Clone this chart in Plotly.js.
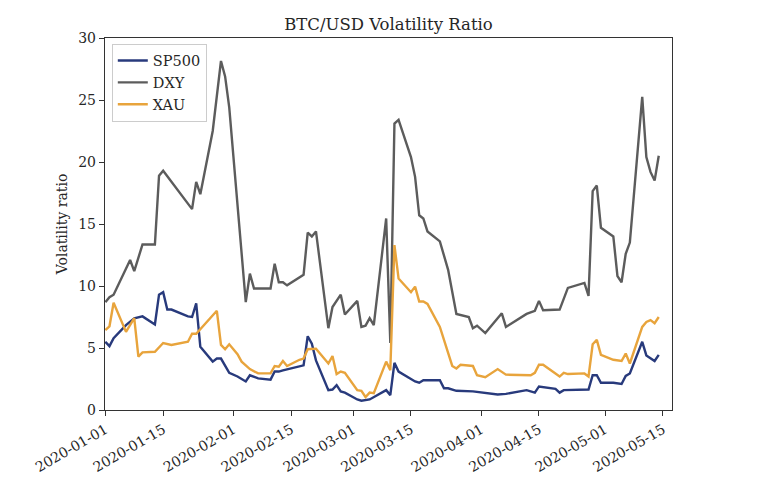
<!DOCTYPE html>
<html>
<head>
<meta charset="utf-8">
<script src="https://cdn.plot.ly/plotly-3.0.1.min.js"></script>
<style>html,body{margin:0;padding:0;background:#fff;}#chart{width:775px;height:484px;}</style>
</head>
<body>
<div id="chart"></div>
<script>
// ---- data ----
const spDates = ["2020-01-01","2020-01-02","2020-01-03","2020-01-06","2020-01-08","2020-01-10","2020-01-13","2020-01-14","2020-01-15","2020-01-16","2020-01-17","2020-01-21","2020-01-22","2020-01-23","2020-01-24","2020-01-27","2020-01-28","2020-01-29","2020-01-31","2020-02-02","2020-02-04","2020-02-05","2020-02-07","2020-02-10","2020-02-11","2020-02-12","2020-02-13","2020-02-17","2020-02-18","2020-02-19","2020-02-20","2020-02-21","2020-02-24","2020-02-25","2020-02-26","2020-02-27","2020-02-28","2020-03-02","2020-03-03","2020-03-05","2020-03-06","2020-03-09","2020-03-10","2020-03-11","2020-03-12","2020-03-16","2020-03-17","2020-03-18","2020-03-22","2020-03-23","2020-03-24","2020-03-26","2020-03-30","2020-04-02","2020-04-05","2020-04-07","2020-04-12","2020-04-14","2020-04-15","2020-04-19","2020-04-20","2020-04-21","2020-04-27","2020-04-28","2020-04-29","2020-04-30","2020-05-03","2020-05-05","2020-05-06","2020-05-07","2020-05-10","2020-05-11","2020-05-13","2020-05-14"];
const spValues = [5.5,5.15,5.8,6.85,7.4,7.55,6.9,9.3,9.5,8.1,8.1,7.55,7.5,8.6,5.1,3.9,4.15,4.15,3.0,2.7,2.3,2.8,2.55,2.45,3.1,3.1,3.2,3.55,3.6,5.95,5.35,4.0,1.6,1.65,2.0,1.5,1.4,0.85,0.75,0.85,1.05,1.6,1.2,3.8,3.1,2.3,2.2,2.4,2.4,1.75,1.75,1.55,1.5,1.35,1.25,1.3,1.6,1.4,1.9,1.7,1.4,1.6,1.65,2.8,2.8,2.2,2.2,2.1,2.75,2.95,5.5,4.4,3.95,4.45];

const dxyDates = ["2020-01-01","2020-01-02","2020-01-03","2020-01-07","2020-01-08","2020-01-10","2020-01-13","2020-01-14","2020-01-15","2020-01-22","2020-01-23","2020-01-24","2020-01-27","2020-01-29","2020-01-30","2020-01-31","2020-02-04","2020-02-05","2020-02-06","2020-02-10","2020-02-11","2020-02-12","2020-02-13","2020-02-14","2020-02-18","2020-02-19","2020-02-20","2020-02-21","2020-02-24","2020-02-25","2020-02-27","2020-02-28","2020-03-02","2020-03-03","2020-03-04","2020-03-05","2020-03-06","2020-03-09","2020-03-10","2020-03-11","2020-03-12","2020-03-15","2020-03-16","2020-03-17","2020-03-18","2020-03-19","2020-03-22","2020-03-24","2020-03-26","2020-03-29","2020-03-30","2020-03-31","2020-04-02","2020-04-06","2020-04-07","2020-04-12","2020-04-14","2020-04-15","2020-04-16","2020-04-20","2020-04-22","2020-04-26","2020-04-27","2020-04-28","2020-04-29","2020-04-30","2020-05-03","2020-05-04","2020-05-05","2020-05-06","2020-05-07","2020-05-10","2020-05-11","2020-05-12","2020-05-13","2020-05-14"];
const dxyValues = [8.7,9.1,9.3,12.1,11.2,13.35,13.35,18.9,19.3,16.2,18.4,17.4,22.5,28.15,26.9,24.4,8.7,11.0,9.8,9.8,11.8,10.3,10.3,10.05,10.9,14.3,14.0,14.4,6.6,8.3,9.3,7.7,8.8,6.7,6.8,7.4,6.85,15.45,5.4,23.1,23.4,20.4,18.8,15.7,15.45,14.4,13.6,11.3,7.75,7.5,6.6,6.8,6.2,7.8,6.7,7.75,8.0,8.8,8.05,8.1,9.85,10.25,9.2,17.65,18.1,14.7,14.0,10.8,10.3,12.6,13.5,25.25,20.4,19.2,18.5,20.5];

const xauDates = ["2020-01-01","2020-01-02","2020-01-03","2020-01-06","2020-01-08","2020-01-09","2020-01-10","2020-01-13","2020-01-15","2020-01-17","2020-01-21","2020-01-22","2020-01-23","2020-01-28","2020-01-29","2020-01-30","2020-01-31","2020-02-02","2020-02-03","2020-02-05","2020-02-07","2020-02-10","2020-02-11","2020-02-12","2020-02-13","2020-02-14","2020-02-17","2020-02-18","2020-02-19","2020-02-21","2020-02-24","2020-02-25","2020-02-26","2020-02-27","2020-02-28","2020-03-02","2020-03-03","2020-03-04","2020-03-05","2020-03-06","2020-03-09","2020-03-10","2020-03-11","2020-03-12","2020-03-15","2020-03-16","2020-03-17","2020-03-18","2020-03-19","2020-03-22","2020-03-25","2020-03-26","2020-03-27","2020-03-30","2020-03-31","2020-04-02","2020-04-05","2020-04-07","2020-04-13","2020-04-14","2020-04-15","2020-04-16","2020-04-20","2020-04-21","2020-04-22","2020-04-26","2020-04-27","2020-04-28","2020-04-29","2020-04-30","2020-05-03","2020-05-05","2020-05-06","2020-05-07","2020-05-10","2020-05-11","2020-05-12","2020-05-13","2020-05-14"];
const xauValues = [6.45,6.75,8.65,6.3,7.4,4.3,4.65,4.7,5.4,5.25,5.5,6.15,6.15,8.0,5.25,4.9,5.3,4.5,3.9,3.3,2.95,2.95,3.55,3.5,3.95,3.55,4.05,4.15,4.9,4.95,3.75,4.35,2.9,3.1,3.0,1.6,1.55,1.05,1.4,1.35,3.9,3.2,13.3,10.6,9.5,9.95,8.75,8.75,8.55,6.7,3.55,3.35,3.65,3.55,2.8,2.65,3.3,2.85,2.8,3.0,3.65,3.65,2.7,3.0,2.9,2.95,2.7,5.3,5.65,4.45,4.05,3.95,4.55,3.75,6.7,7.1,7.25,7.0,7.5];

const seriesNames = ["SP500","DXY","XAU"];
const seriesColors = ["#283a7c","#5c5c5c","#e8a43c"];
const xTickDates = ["2020-01-01","2020-01-15","2020-02-01","2020-02-15","2020-03-01","2020-03-15","2020-04-01","2020-04-15","2020-05-01","2020-05-15"];
const yTicks = [0,5,10,15,20,25,30];

const xs = [spDates, dxyDates, xauDates];
const ys = [spValues, dxyValues, xauValues];
const traces = seriesNames.map((n, i) => ({
  type: "scatter", mode: "lines", name: n, x: xs[i], y: ys[i],
  line: {color: seriesColors[i], width: 2.4}
}));

const font = "DejaVu Serif, Liberation Serif, serif";
const layout = {
  width: 775, height: 484,
  margin: {l: 105, r: 103, t: 38, b: 74, pad: 0},
  paper_bgcolor: "#fff", plot_bgcolor: "#fff",
  font: {family: font, size: 13, color: "#262626"},
  title: {text: "BTC/USD Volatility Ratio", font: {family: font, size: 16.5, color: "#262626"},
          x: 0.5, xref: "paper", y: 0.95, yref: "container", yanchor: "middle"},
  showlegend: true,
  legend: {x: 0.012, y: 0.985, xanchor: "left", yanchor: "top", bgcolor: "rgba(255,255,255,0.85)",
           bordercolor: "#cccccc", borderwidth: 1, font: {family: font, size: 14.5, color: "#262626"},
           itemwidth: 30, tracegroupgap: 0},
  xaxis: {type: "date", range: ["2019-12-31 22:00", "2020-05-17 05:00"],
          tickmode: "array", tickvals: xTickDates, ticktext: xTickDates, tickangle: -30,
          ticks: "outside", ticklen: 5, tickcolor: "#333", showline: true, mirror: true,
          linecolor: "#333", linewidth: 1.2, showgrid: false, zeroline: false,
          tickfont: {family: font, size: 14, color: "#262626"}},
  yaxis: {range: [0, 30], tickmode: "array", tickvals: yTicks, ticks: "outside", ticklen: 5,
          tickcolor: "#333", showline: true, mirror: true, linecolor: "#333", linewidth: 1.2,
          showgrid: false, zeroline: false, tickfont: {family: font, size: 14, color: "#262626"},
          title: {text: "Volatility ratio", font: {family: font, size: 14, color: "#262626"}, standoff: 7}}
};
Plotly.newPlot("chart", traces, layout, {displayModeBar: false, staticPlot: true});
</script>
</body>
</html>
